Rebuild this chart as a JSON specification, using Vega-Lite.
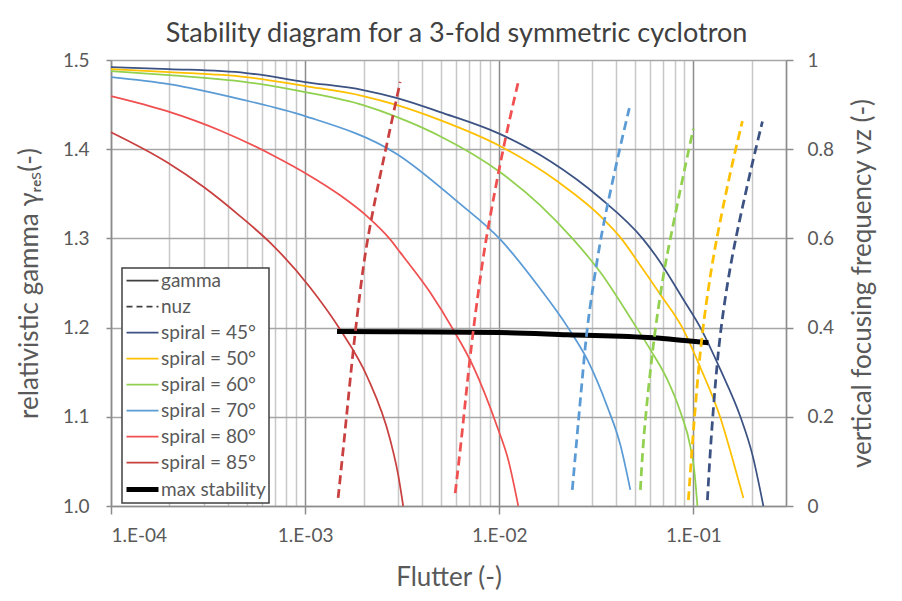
{
  "$schema": "https://vega.github.io/schema/vega-lite/v6.json",
  "autosize": "none",
  "width": 675,
  "height": 446,
  "padding": {"left": 111, "top": 60, "right": 116, "bottom": 95},
  "background": "white",
  "title": {"text": "Stability diagram for a 3-fold symmetric cyclotron", "font": "Lato", "fontSize": 27, "fontWeight": "normal", "color": "#404040", "anchor": "middle", "frame": "group", "baseline": "alphabetic", "offset": 12, "dx": 8, "dy": 30},
  "config": {"view": {"stroke": null}, "font": "Lato"},
  "resolve": {"scale": {"y": "independent"}, "axis": {"x": "independent", "y": "independent"}},
  "datasets": {
    "gamma": [
      {"entry": "spiral = 45°", "F": 0.0001, "g": 1.4921},
      {"entry": "spiral = 45°", "F": 0.000199, "g": 1.4899},
      {"entry": "spiral = 45°", "F": 0.000496, "g": 1.4854},
      {"entry": "spiral = 45°", "F": 0.001, "g": 1.4753},
      {"entry": "spiral = 45°", "F": 0.00199, "g": 1.4663},
      {"entry": "spiral = 45°", "F": 0.00298, "g": 1.4573},
      {"entry": "spiral = 45°", "F": 0.00496, "g": 1.4416},
      {"entry": "spiral = 45°", "F": 0.01012, "g": 1.4169},
      {"entry": "spiral = 45°", "F": 0.01832, "g": 1.3865},
      {"entry": "spiral = 45°", "F": 0.03318, "g": 1.345},
      {"entry": "spiral = 45°", "F": 0.05521, "g": 1.2989},
      {"entry": "spiral = 45°", "F": 0.06602, "g": 1.2764},
      {"entry": "spiral = 45°", "F": 0.08879, "g": 1.2315},
      {"entry": "spiral = 45°", "F": 0.1087, "g": 1.2},
      {"entry": "spiral = 45°", "F": 0.1378, "g": 1.1528},
      {"entry": "spiral = 45°", "F": 0.1747, "g": 1.1},
      {"entry": "spiral = 45°", "F": 0.2015, "g": 1.0573},
      {"entry": "spiral = 45°", "F": 0.2294, "g": 1.0},
      {"entry": "spiral = 50°", "F": 0.0001, "g": 1.4899},
      {"entry": "spiral = 50°", "F": 0.000199, "g": 1.4865},
      {"entry": "spiral = 50°", "F": 0.000496, "g": 1.4809},
      {"entry": "spiral = 50°", "F": 0.001, "g": 1.4708},
      {"entry": "spiral = 50°", "F": 0.00199, "g": 1.4596},
      {"entry": "spiral = 50°", "F": 0.00298, "g": 1.4494},
      {"entry": "spiral = 50°", "F": 0.00496, "g": 1.4326},
      {"entry": "spiral = 50°", "F": 0.01012, "g": 1.4034},
      {"entry": "spiral = 50°", "F": 0.0199, "g": 1.364},
      {"entry": "spiral = 50°", "F": 0.03318, "g": 1.325},
      {"entry": "spiral = 50°", "F": 0.04206, "g": 1.3011},
      {"entry": "spiral = 50°", "F": 0.05333, "g": 1.2697},
      {"entry": "spiral = 50°", "F": 0.06761, "g": 1.2371},
      {"entry": "spiral = 50°", "F": 0.08879, "g": 1.1978},
      {"entry": "spiral = 50°", "F": 0.1087, "g": 1.1551},
      {"entry": "spiral = 50°", "F": 0.1378, "g": 1.0989},
      {"entry": "spiral = 50°", "F": 0.157, "g": 1.0573},
      {"entry": "spiral = 50°", "F": 0.1811, "g": 1.009},
      {"entry": "spiral = 60°", "F": 0.0001, "g": 1.4876},
      {"entry": "spiral = 60°", "F": 0.000199, "g": 1.4831},
      {"entry": "spiral = 60°", "F": 0.000496, "g": 1.4753},
      {"entry": "spiral = 60°", "F": 0.001, "g": 1.464},
      {"entry": "spiral = 60°", "F": 0.00199, "g": 1.4494},
      {"entry": "spiral = 60°", "F": 0.00298, "g": 1.436},
      {"entry": "spiral = 60°", "F": 0.00496, "g": 1.4146},
      {"entry": "spiral = 60°", "F": 0.01012, "g": 1.3742},
      {"entry": "spiral = 60°", "F": 0.01627, "g": 1.3371},
      {"entry": "spiral = 60°", "F": 0.02406, "g": 1.2989},
      {"entry": "spiral = 60°", "F": 0.03318, "g": 1.262},
      {"entry": "spiral = 60°", "F": 0.04906, "g": 1.2056},
      {"entry": "spiral = 60°", "F": 0.06003, "g": 1.1753},
      {"entry": "spiral = 60°", "F": 0.07345, "g": 1.1416},
      {"entry": "spiral = 60°", "F": 0.0857, "g": 1.1056},
      {"entry": "spiral = 60°", "F": 0.09657, "g": 1.0663},
      {"entry": "spiral = 60°", "F": 0.1012, "g": 1.0388},
      {"entry": "spiral = 60°", "F": 0.1049, "g": 1.0},
      {"entry": "spiral = 70°", "F": 0.0001, "g": 1.4809},
      {"entry": "spiral = 70°", "F": 0.000199, "g": 1.473},
      {"entry": "spiral = 70°", "F": 0.000462, "g": 1.4562},
      {"entry": "spiral = 70°", "F": 0.001, "g": 1.4371},
      {"entry": "spiral = 70°", "F": 0.00298, "g": 1.3944},
      {"entry": "spiral = 70°", "F": 0.00615, "g": 1.3404},
      {"entry": "spiral = 70°", "F": 0.01012, "g": 1.2989},
      {"entry": "spiral = 70°", "F": 0.01608, "g": 1.2449},
      {"entry": "spiral = 70°", "F": 0.02243, "g": 1.2011},
      {"entry": "spiral = 70°", "F": 0.02843, "g": 1.164},
      {"entry": "spiral = 70°", "F": 0.03604, "g": 1.1112},
      {"entry": "spiral = 70°", "F": 0.04206, "g": 1.0685},
      {"entry": "spiral = 70°", "F": 0.04735, "g": 1.018},
      {"entry": "spiral = 80°", "F": 0.0001, "g": 1.4596},
      {"entry": "spiral = 80°", "F": 0.0001944, "g": 1.4427},
      {"entry": "spiral = 80°", "F": 0.0003646, "g": 1.421},
      {"entry": "spiral = 80°", "F": 0.000684, "g": 1.393},
      {"entry": "spiral = 80°", "F": 0.001024, "g": 1.372},
      {"entry": "spiral = 80°", "F": 0.001515, "g": 1.3483},
      {"entry": "spiral = 80°", "F": 0.002088, "g": 1.3247},
      {"entry": "spiral = 80°", "F": 0.002743, "g": 1.2989},
      {"entry": "spiral = 80°", "F": 0.003088, "g": 1.2843},
      {"entry": "spiral = 80°", "F": 0.00441, "g": 1.2393},
      {"entry": "spiral = 80°", "F": 0.00579, "g": 1.1978},
      {"entry": "spiral = 80°", "F": 0.00735, "g": 1.1562},
      {"entry": "spiral = 80°", "F": 0.00976, "g": 1.0888},
      {"entry": "spiral = 80°", "F": 0.01113, "g": 1.0517},
      {"entry": "spiral = 80°", "F": 0.01253, "g": 1.0},
      {"entry": "spiral = 85°", "F": 0.0001, "g": 1.4191},
      {"entry": "spiral = 85°", "F": 0.0001944, "g": 1.3854},
      {"entry": "spiral = 85°", "F": 0.0003016, "g": 1.3573},
      {"entry": "spiral = 85°", "F": 0.000462, "g": 1.325},
      {"entry": "spiral = 85°", "F": 0.000684, "g": 1.292},
      {"entry": "spiral = 85°", "F": 0.001061, "g": 1.245},
      {"entry": "spiral = 85°", "F": 0.001515, "g": 1.1978},
      {"entry": "spiral = 85°", "F": 0.002088, "g": 1.1449},
      {"entry": "spiral = 85°", "F": 0.002743, "g": 1.0742},
      {"entry": "spiral = 85°", "F": 0.003016, "g": 1.0348},
      {"entry": "spiral = 85°", "F": 0.0032, "g": 1.0}
    ],
    "maxstab": [
      {"entry": "max stability", "F": 0.00146, "g": 1.1955},
      {"entry": "max stability", "F": 0.0031, "g": 1.1953},
      {"entry": "max stability", "F": 0.01, "g": 1.1945},
      {"entry": "max stability", "F": 0.0224, "g": 1.192},
      {"entry": "max stability", "F": 0.0622, "g": 1.1885},
      {"entry": "max stability", "F": 0.09, "g": 1.1855},
      {"entry": "max stability", "F": 0.1195, "g": 1.1831}
    ],
    "nuz": [
      {"entry": "spiral = 85°", "F": 0.001479, "nu": 0.018},
      {"entry": "spiral = 85°", "F": 0.001571, "nu": 0.126},
      {"entry": "spiral = 85°", "F": 0.001666, "nu": 0.238},
      {"entry": "spiral = 85°", "F": 0.001768, "nu": 0.35},
      {"entry": "spiral = 85°", "F": 0.001921, "nu": 0.484},
      {"entry": "spiral = 85°", "F": 0.002063, "nu": 0.584},
      {"entry": "spiral = 85°", "F": 0.002323, "nu": 0.7},
      {"entry": "spiral = 85°", "F": 0.002647, "nu": 0.815},
      {"entry": "spiral = 85°", "F": 0.003088, "nu": 0.951},
      {"entry": "spiral = 80°", "F": 0.00593, "nu": 0.029},
      {"entry": "spiral = 80°", "F": 0.006447, "nu": 0.164},
      {"entry": "spiral = 80°", "F": 0.006921, "nu": 0.3},
      {"entry": "spiral = 80°", "F": 0.00752, "nu": 0.43},
      {"entry": "spiral = 80°", "F": 0.00827, "nu": 0.56},
      {"entry": "spiral = 80°", "F": 0.008776, "nu": 0.626},
      {"entry": "spiral = 80°", "F": 0.009766, "nu": 0.735},
      {"entry": "spiral = 80°", "F": 0.011, "nu": 0.845},
      {"entry": "spiral = 80°", "F": 0.01253, "nu": 0.951},
      {"entry": "spiral = 70°", "F": 0.02378, "nu": 0.036},
      {"entry": "spiral = 70°", "F": 0.02524, "nu": 0.164},
      {"entry": "spiral = 70°", "F": 0.0271, "nu": 0.31},
      {"entry": "spiral = 70°", "F": 0.02842, "nu": 0.41},
      {"entry": "spiral = 70°", "F": 0.03316, "nu": 0.6},
      {"entry": "spiral = 70°", "F": 0.03734, "nu": 0.705},
      {"entry": "spiral = 70°", "F": 0.04206, "nu": 0.808},
      {"entry": "spiral = 70°", "F": 0.04679, "nu": 0.892},
      {"entry": "spiral = 60°", "F": 0.05333, "nu": 0.036},
      {"entry": "spiral = 60°", "F": 0.05526, "nu": 0.155},
      {"entry": "spiral = 60°", "F": 0.06003, "nu": 0.305},
      {"entry": "spiral = 60°", "F": 0.0637, "nu": 0.4},
      {"entry": "spiral = 60°", "F": 0.07004, "nu": 0.52},
      {"entry": "spiral = 60°", "F": 0.07609, "nu": 0.6},
      {"entry": "spiral = 60°", "F": 0.0857, "nu": 0.71},
      {"entry": "spiral = 60°", "F": 0.09424, "nu": 0.795},
      {"entry": "spiral = 60°", "F": 0.1, "nu": 0.846},
      {"entry": "spiral = 50°", "F": 0.09424, "nu": 0.013},
      {"entry": "spiral = 50°", "F": 0.0988, "nu": 0.141},
      {"entry": "spiral = 50°", "F": 0.1049, "nu": 0.28},
      {"entry": "spiral = 50°", "F": 0.1113, "nu": 0.395},
      {"entry": "spiral = 50°", "F": 0.1224, "nu": 0.52},
      {"entry": "spiral = 50°", "F": 0.1299, "nu": 0.585},
      {"entry": "spiral = 50°", "F": 0.1428, "nu": 0.675},
      {"entry": "spiral = 50°", "F": 0.1589, "nu": 0.77},
      {"entry": "spiral = 50°", "F": 0.1789, "nu": 0.863},
      {"entry": "spiral = 45°", "F": 0.1181, "nu": 0.013},
      {"entry": "spiral = 45°", "F": 0.1224, "nu": 0.132},
      {"entry": "spiral = 45°", "F": 0.1299, "nu": 0.28},
      {"entry": "spiral = 45°", "F": 0.1378, "nu": 0.395},
      {"entry": "spiral = 45°", "F": 0.1551, "nu": 0.545},
      {"entry": "spiral = 45°", "F": 0.181, "nu": 0.68},
      {"entry": "spiral = 45°", "F": 0.2014, "nu": 0.77},
      {"entry": "spiral = 45°", "F": 0.2268, "nu": 0.862}
    ]
  },
  "layer": [
    {
      "data": {"name": "gamma"},
      "mark": {"type": "line", "strokeWidth": 1.75, "interpolate": "monotone"},
      "encoding": {
        "x": {
          "field": "F", "type": "quantitative",
          "scale": {"type": "log", "domain": [0.0001, 0.3], "nice": false},
          "axis": {
            "orient": "bottom",
            "values": [0.0002, 0.0003, 0.0004, 0.0005, 0.0006, 0.0007, 0.0008, 0.0009, 0.002, 0.003, 0.004, 0.005, 0.006, 0.007, 0.008, 0.009, 0.02, 0.03, 0.04, 0.05, 0.06, 0.07, 0.08, 0.09, 0.2, 0.3],
            "grid": true, "gridColor": "#C8C8C8", "gridWidth": 1.5,
            "labels": false, "ticks": false, "domain": false, "title": null
          }
        },
        "y": {
          "field": "g", "type": "quantitative",
          "scale": {"domain": [1, 1.5], "nice": false, "zero": false},
          "axis": {
            "orient": "left",
            "values": [1, 1.1, 1.2, 1.3, 1.4, 1.5],
            "format": ".1f",
            "grid": true, "gridColor": "#A6A6A6", "gridWidth": 1.5,
            "domainColor": "#8C8C8C", "domainWidth": 1.5,
            "tickColor": "#8C8C8C", "tickSize": 5, "tickWidth": 1.5,
            "labelFont": "Lato", "labelFontSize": 19, "labelColor": "#595959", "labelPadding": 17,
            "title": "relativistic gamma γᵣₑₛ(-)",
            "titleFont": "Lato", "titleFontSize": 26, "titleFontWeight": "normal", "titleColor": "#595959", "titlePadding": 20
          }
        },
        "color": {
          "field": "entry", "type": "nominal",
          "scale": {
            "domain": ["gamma", "nuz", "spiral = 45°", "spiral = 50°", "spiral = 60°", "spiral = 70°", "spiral = 80°", "spiral = 85°", "max stability"],
            "range": ["#404040", "#404040", "#3B5283", "#FFC000", "#92D050", "#5B9BD5", "#F05050", "#C8403F", "#000000"]
          },
          "legend": {
            "title": null,
            "orient": "none", "legendX": 11, "legendY": 208,
            "labelFont": "Lato", "labelFontSize": 19, "labelColor": "#595959",
            "symbolType": "M-1,0H3", "symbolSize": 256, "symbolStrokeWidth": 1.5,
            "labelOffset": 17, "rowPadding": 6, "padding": 3,
            "strokeColor": "#404040", "fillColor": "white",
            "encode": {
              "symbols": {"update": {
                "strokeDash": {"signal": "datum.value === 'nuz' ? [6, 4] : [1, 0]"},
                "strokeWidth": {"signal": "datum.value === 'max stability' ? 5 : 1.75"}
              }},
              "legend": {"update": {"strokeWidth": {"value": 1.5}}}
            }
          }
        }
      }
    },
    {
      "data": {"name": "maxstab"},
      "mark": {"type": "line", "strokeWidth": 5, "interpolate": "monotone"},
      "encoding": {
        "x": {
          "field": "F", "type": "quantitative",
          "scale": {"type": "log", "domain": [0.0001, 0.3], "nice": false},
          "axis": {
            "orient": "bottom",
            "values": [0.0001, 0.001, 0.01, 0.1],
            "labelExpr": "'1.E-0' + round(-log(datum.value) / LN10)",
            "grid": true, "gridColor": "#8C8C8C", "gridWidth": 1.5,
            "domainColor": "#8C8C8C", "domainWidth": 1.5,
            "tickColor": "#8C8C8C", "tickSize": 8, "tickWidth": 1.5,
            "labelFont": "Lato", "labelFontSize": 19, "labelColor": "#595959", "labelPadding": 12,
            "title": "Flutter (-)",
            "titleFont": "Lato", "titleFontSize": 26, "titleFontWeight": "normal", "titleColor": "#595959", "titlePadding": 19
          }
        },
        "y": {
          "field": "g", "type": "quantitative",
          "scale": {"domain": [1, 1.5], "nice": false, "zero": false},
          "axis": null
        },
        "color": {"field": "entry", "type": "nominal"}
      }
    },
    {
      "data": {"name": "nuz"},
      "mark": {"type": "line", "strokeWidth": 2.75, "strokeDash": [9, 5], "interpolate": "basis"},
      "encoding": {
        "x": {
          "field": "F", "type": "quantitative",
          "scale": {"type": "log", "domain": [0.0001, 0.3], "nice": false},
          "axis": null
        },
        "y": {
          "field": "nu", "type": "quantitative",
          "scale": {"domain": [0, 1], "nice": false},
          "axis": {
            "orient": "right",
            "values": [0, 0.2, 0.4, 0.6, 0.8, 1],
            "format": "~g",
            "grid": false,
            "domainColor": "#8C8C8C", "domainWidth": 1.5,
            "tickColor": "#8C8C8C", "tickSize": 7, "tickWidth": 1.5,
            "labelFont": "Lato", "labelFontSize": 19, "labelColor": "#595959", "labelPadding": 14,
            "title": "vertical focusing frequency νz (-)",
            "titleAngle": 270, "titleBaseline": "top",
            "titleFont": "Lato", "titleFontSize": 26, "titleFontWeight": "normal", "titleColor": "#595959", "titlePadding": 16
          }
        },
        "color": {"field": "entry", "type": "nominal"}
      }
    }
  ]
}
